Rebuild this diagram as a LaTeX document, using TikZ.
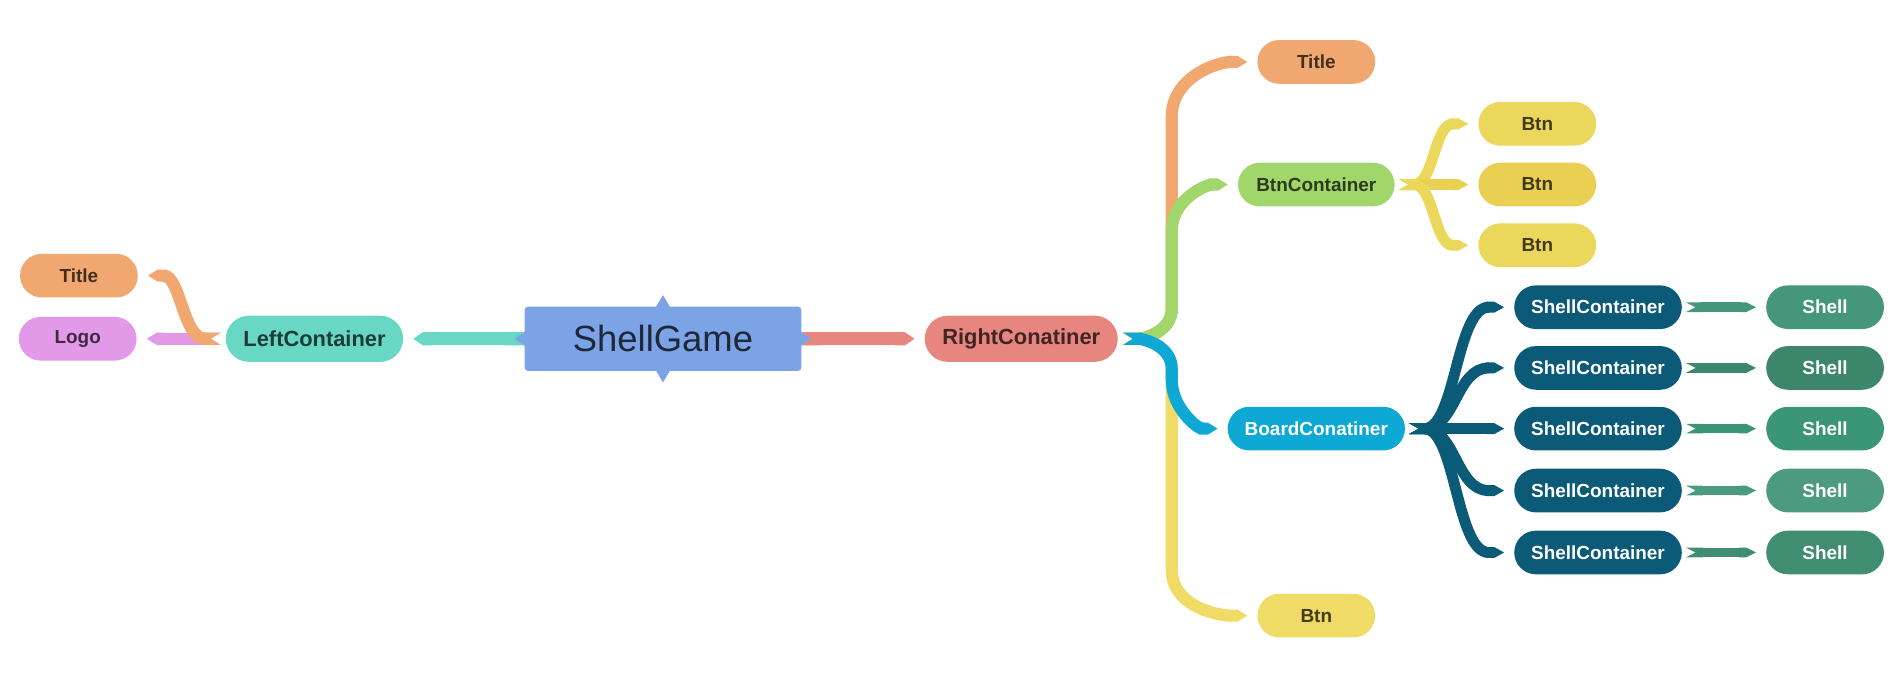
\documentclass[tikz,border=0pt]{standalone}
\usepackage{fontspec}
\setmainfont{Liberation Sans}
\usetikzlibrary{arrows.meta,calc}

\definecolor{gameblue}{HTML}{7BA3E6}
\definecolor{leftgreen}{HTML}{68D8C4}
\definecolor{titleorange}{HTML}{F0A870}
\definecolor{logoviolet}{HTML}{E29AE8}
\definecolor{rightred}{HTML}{E6867E}
\definecolor{btngreen}{HTML}{A0D66A}
\definecolor{btnyellow}{HTML}{EAD75C}
\definecolor{btnyellowb}{HTML}{E9D052}
\definecolor{lowyellow}{HTML}{EFDB66}
\definecolor{boardblue}{HTML}{0EA8D4}
\definecolor{shellcblue}{HTML}{0A5A78}
\definecolor{shellgreen}{HTML}{44977A}
\definecolor{shellgreenb}{HTML}{3C876C}
\definecolor{shellgreenc}{HTML}{3A9676}
\definecolor{shellgreend}{HTML}{4C9B80}
\definecolor{shellgreene}{HTML}{418D72}

\begin{document}
\begin{tikzpicture}[x=0.5pt,y=0.5pt,
  pill/.style={rectangle,rounded corners=9pt,minimum height=18pt,minimum width=48.5pt,inner sep=0pt,
    font=\bfseries\fontsize{7.8}{9}\selectfont,text=black,text opacity=.72},
  big/.style={pill,rounded corners=9.5pt,minimum height=19pt,font=\bfseries\fontsize{9}{11}\selectfont},
  dark/.style={pill,text=white,text opacity=1},
  band/.style={draw=#1,line width=5pt,{Triangle Cap[reversed,length=4pt]}-{Triangle Cap[length=4pt]},
    shorten <=2pt,shorten >=4pt}]
\useasboundingbox (0,0) rectangle (1568,-560);

% root
\node[fill=gameblue,rounded corners=1.5pt,minimum width=114pt,minimum height=26.5pt,inner sep=0pt,
  font=\fontsize{15}{18}\selectfont,text=black,text opacity=.75] (game) at (546,-279) {ShellGame};
\foreach \a/\r in {north/0,west/90,south/180,east/-90}
  \fill[gameblue,shift={(game.\a)},rotate=\r] (-6,-1) -- (0,9) -- (6,-1) -- cycle;

% left side
\node[big,fill=leftgreen,minimum width=73pt] (left) at (259,-279) {LeftContainer};
\node[pill,fill=titleorange] (ltitle) at (65,-227) {Title};
\node[pill,fill=logoviolet] (logo) at (64,-279) {Logo};

\draw[band=leftgreen,line width=5.5pt,shorten <=0pt] (game.west) -- (left.east);
\draw[band=logoviolet] (left.west) -- (logo.east);
\draw[band=titleorange] (left.west) to[out=180,in=0] (ltitle.east);

% right side
\node[big,fill=rightred,minimum width=79.5pt] (right) at (841,-279) {RightConatiner};
\node[pill,fill=titleorange] (rtitle) at (1084,-51) {Title};
\node[pill,fill=btngreen,minimum width=64.5pt] (btnc) at (1084,-152) {BtnContainer};
\node[dark,fill=boardblue,minimum width=73pt] (board) at (1084,-353) {BoardConatiner};
\node[pill,fill=lowyellow] (btn4) at (1084,-507) {Btn};

\draw[band=rightred,line width=5.5pt,shorten <=0pt] (game.east) -- (right.west);
\coordinate (rv) at (965,-279);
\draw[band=titleorange] (right.east) to[out=0,in=-90] ($(rv)+(0,25)$)
  -- ($(rv |- rtitle)+(0,-45)$) to[out=90,in=180] (rtitle.west);
\draw[band=btngreen] (right.east) to[out=0,in=-90] ($(rv)+(0,25)$)
  -- ($(rv |- btnc)+(0,-38)$) to[out=90,in=180] (btnc.west);
\draw[band=lowyellow] (right.east) to[out=0,in=90] ($(rv)+(0,-25)$)
  -- ($(rv |- btn4)+(0,38)$) to[out=-90,in=180] (btn4.west);
\draw[band=boardblue] (right.east) to[out=0,in=90] ($(rv)+(0,-25)$)
  -- ($(rv |- board)+(0,40)$) to[out=-90,in=180] (board.west);

% buttons
\node[pill,fill=btnyellow] (btn1) at (1266,-102) {Btn};
\node[pill,fill=btnyellowb] (btn2) at (1266,-152) {Btn};
\node[pill,fill=btnyellow] (btn3) at (1266,-202) {Btn};

\coordinate (tv) at (1181,-152);
\draw[band=btnyellow,line width=4.5pt,shorten <=1.5pt] (btnc.east) .. controls (tv) and (tv |- btn1) .. (btn1.west);
\draw[band=btnyellowb,line width=4.5pt,shorten <=1.5pt] (btnc.east) -- (btn2.west);
\draw[band=btnyellow,line width=4.5pt,shorten <=1.5pt] (btnc.east) .. controls (tv) and (tv |- btn3) .. (btn3.west);

% shells
\node[dark,fill=shellcblue,minimum width=69pt] (sc1) at (1316,-253) {ShellContainer};
\node[dark,fill=shellcblue,minimum width=69pt] (sc2) at (1316,-303) {ShellContainer};
\node[dark,fill=shellcblue,minimum width=69pt] (sc3) at (1316,-353) {ShellContainer};
\node[dark,fill=shellcblue,minimum width=69pt] (sc4) at (1316,-404) {ShellContainer};
\node[dark,fill=shellcblue,minimum width=69pt] (sc5) at (1316,-455) {ShellContainer};
\node[dark,fill=shellgreen] (sh1) at (1503,-253) {Shell};
\node[dark,fill=shellgreenb] (sh2) at (1503,-303) {Shell};
\node[dark,fill=shellgreenc] (sh3) at (1503,-353) {Shell};
\node[dark,fill=shellgreend] (sh4) at (1503,-404) {Shell};
\node[dark,fill=shellgreene] (sh5) at (1503,-455) {Shell};

\coordinate (bv) at (1199,-353);
\draw[band=shellcblue,line width=4.5pt,shorten <=1.5pt] (board.east) .. controls (bv) and (bv |- sc1) .. (sc1.west);
\draw[band=shellcblue,line width=4.5pt,shorten <=1.5pt] (board.east) .. controls (bv) and (bv |- sc2) .. (sc2.west);
\draw[band=shellcblue,line width=4.5pt,shorten <=1.5pt] (board.east) -- (sc3.west);
\draw[band=shellcblue,line width=4.5pt,shorten <=1.5pt] (board.east) .. controls (bv) and (bv |- sc4) .. (sc4.west);
\draw[band=shellcblue,line width=4.5pt,shorten <=1.5pt] (board.east) .. controls (bv) and (bv |- sc5) .. (sc5.west);

\draw[band=shellgreen,line width=4pt,shorten <=1.5pt] (sc1.east) -- (sh1.west);
\draw[band=shellgreenb,line width=4pt,shorten <=1.5pt] (sc2.east) -- (sh2.west);
\draw[band=shellgreenc,line width=4pt,shorten <=1.5pt] (sc3.east) -- (sh3.west);
\draw[band=shellgreend,line width=4pt,shorten <=1.5pt] (sc4.east) -- (sh4.west);
\draw[band=shellgreene,line width=4pt,shorten <=1.5pt] (sc5.east) -- (sh5.west);
\end{tikzpicture}
\end{document}
